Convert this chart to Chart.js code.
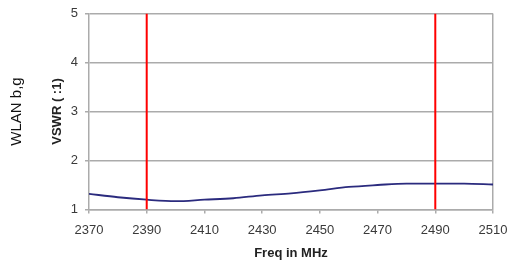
<!DOCTYPE html>
<html>
<head>
<meta charset="utf-8">
<script src="https://cdn.jsdelivr.net/npm/chart.js@4/dist/chart.umd.min.js"></script>
<style>
  html, body { margin: 0; padding: 0; background: #fff; }
  #wrap { width: 508px; height: 261px; }
</style>
</head>
<body>
<div id="wrap"><canvas id="vswrChart" width="508" height="261"></canvas></div>
<script>
var freqs = [2370, 2380, 2390, 2400, 2410, 2420, 2430, 2440, 2450, 2460, 2470, 2480, 2490, 2500, 2510];
var vswr  = [1.32, 1.25, 1.20, 1.17, 1.20, 1.23, 1.29, 1.33, 1.39, 1.46, 1.50, 1.53, 1.53, 1.53, 1.51];

// band edge markers (red verticals)
var bandEdges = [2390, 2490];
var vswrMin = 1, vswrMax = 5;

var sideLabel = 'WLAN b,g';

// side caption to the left of the axis title
var sideLabelPlugin = {
    id: 'sideLabel',
    afterDraw: function (chart) {
        var c = chart.ctx, area = chart.chartArea;
        c.save();
        c.translate(17, (area.top + area.bottom) / 2);
        c.rotate(-Math.PI / 2);
        c.font = '15px "Liberation Sans", Arial, sans-serif';
        c.fillStyle = '#111';
        c.textAlign = 'center';
        c.textBaseline = 'middle';
        c.fillText(sideLabel, 0, 0);
        c.restore();
    }
};

var datasets = [{
    data: freqs.map(function (f, i) { return { x: f, y: vswr[i] }; }),
    borderColor: '#2b2b7e',
    borderWidth: 1.8,
    pointRadius: 0,
    cubicInterpolationMode: 'monotone',
    order: 2
}];
bandEdges.forEach(function (f) {
    datasets.push({
        data: [{ x: f, y: vswrMin }, { x: f, y: vswrMax }],
        borderColor: '#ff0000',
        borderWidth: 2,
        pointRadius: 0,
        order: 1
    });
});

var font = { family: '"Liberation Sans", Arial, sans-serif', size: 13 };
var plain = function (v) { return String(v); };

new Chart(document.getElementById('vswrChart'), {
    type: 'line',
    data: { datasets: datasets },
    plugins: [sideLabelPlugin],
    options: {
        responsive: false,
        animation: false,
        layout: { padding: { left: 50, top: 0, right: 0, bottom: 0 } },
        plugins: { legend: { display: false }, tooltip: { enabled: false } },
        scales: {
            x: {
                type: 'linear',
                min: 2370, max: 2510,
                afterFit: function (s) { s.height = 51.5; s.paddingRight = 15; s.paddingLeft = 0; },
                ticks: { stepSize: 20, color: '#3a3a3a', font: font, padding: 9, callback: plain },
                grid: {
                    color: function (ctx) { return ctx.tick && ctx.tick.value === 2510 ? '#ababab' : 'rgba(0,0,0,0)'; },
                    lineWidth: 1.5,
                    tickColor: '#ababab',
                    tickLength: 4
                },
                border: { color: '#ababab', width: 1.5 },
                title: { display: true, text: 'Freq in MHz', color: '#222', font: { family: font.family, size: 13, weight: 'bold' }, padding: { top: 4, bottom: 0 } }
            },
            y: {
                min: vswrMin, max: vswrMax,
                afterFit: function (s) { s.width = 39; s.paddingTop = 13.5; s.paddingBottom = 0; },
                ticks: { stepSize: 1, color: '#3a3a3a', font: font, padding: 7, callback: plain },
                grid: { color: '#ababab', lineWidth: 1.5, tickLength: 4 },
                border: { color: '#ababab', width: 1.5 },
                title: { display: true, text: 'VSWR ( :1)', color: '#222', font: { family: font.family, size: 13, weight: 'bold' }, padding: { top: 0, bottom: 0 } }
            }
        }
    }
});
</script>
</body>
</html>
